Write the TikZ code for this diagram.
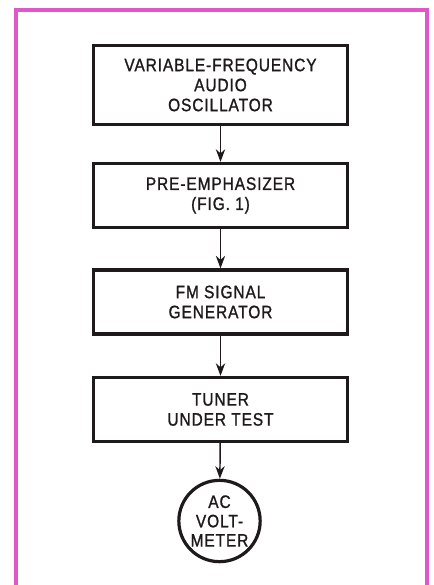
\documentclass[tikz,border=0pt]{standalone}
\usepackage{fontspec}
\setmainfont[FakeStretch=0.86, LetterSpace=5, FakeBold=1.2]{Liberation Sans}
\usetikzlibrary{arrows.meta}
\definecolor{framepink}{RGB}{224,88,200}
\definecolor{inkgray}{RGB}{30,26,28}

\tikzset{
    block/.style={draw=inkgray, line width=2.4pt, minimum width=190pt, minimum height=48pt,
        align=center, text=inkgray, font=\fontsize{13.5pt}{15pt}\selectfont},
    meter/.style={circle, draw=inkgray, line width=2.4pt, minimum size=61pt, inner sep=0pt,
        align=center, text=inkgray, font=\fontsize{13.5pt}{14.5pt}\selectfont},
    flow/.style={draw=inkgray, line width=1.1pt, -{Stealth[length=9.5pt,width=7pt]}}
}

\begin{document}
\begin{tikzpicture}[x=0.75pt,y=-0.75pt]
        \useasboundingbox (0,0) rectangle (434,585);
        \draw[framepink, line width=3pt] (15.5,585) -- (15.5,10.5) -- (427,10.5) -- (427,585);
        \node[block, minimum height=59pt] (osc) at (220.5,85) {VARIABLE-FREQUENCY\\AUDIO\\OSCILLATOR};
        \node[block] (pre) at (220.5,195.5) {PRE-EMPHASIZER\\(FIG. 1)};
        \node[block] (gen) at (220.5,302) {FM SIGNAL\\GENERATOR};
        \node[block] (tuner) at (220.5,409.5) {TUNER\\UNDER TEST};
        \node[meter] (volt) at (219.5,521) {AC\\VOLT-\\METER};
        \draw[flow] (osc) -- (pre);
        \draw[flow] (pre) -- (gen);
        \draw[flow] (gen) -- (tuner);
        \draw[flow] (tuner) -- (volt);
    \end{tikzpicture}
\end{document}
